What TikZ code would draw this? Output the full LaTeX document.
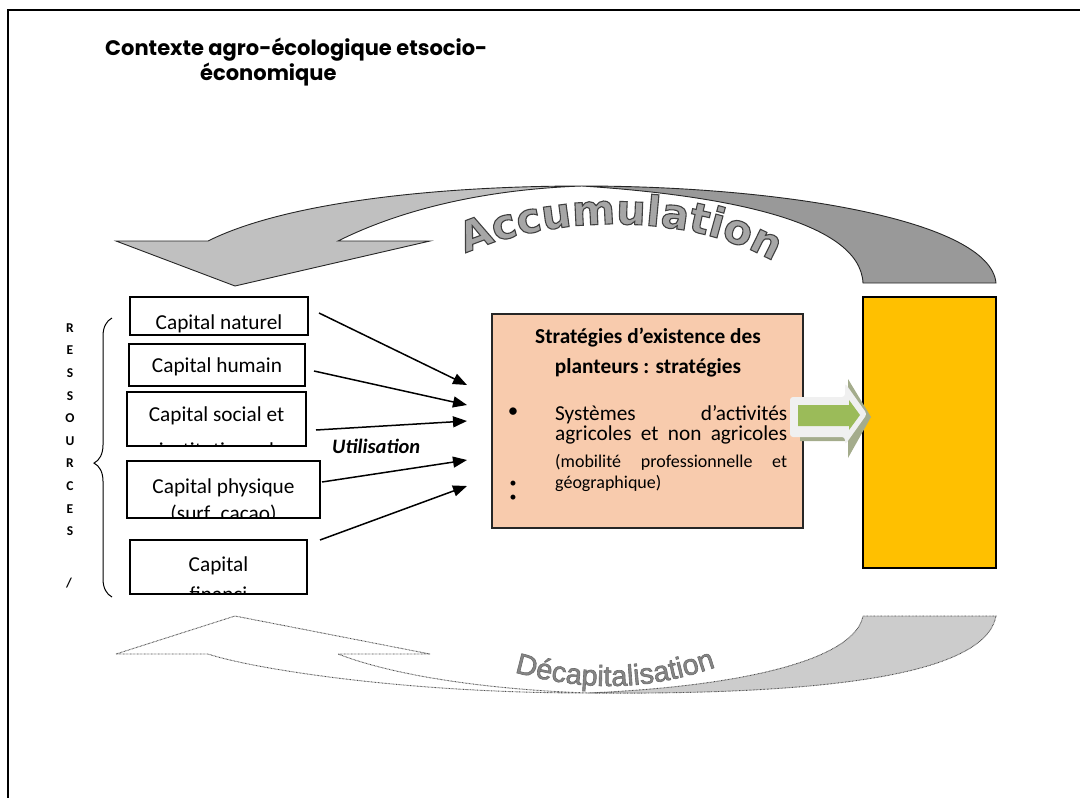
\documentclass[tikz,border=0pt]{standalone}
\usepackage{fontspec}
\setmainfont{Carlito}
\newfontfamily\titlefont{Poppins}
\newfontfamily\accfont{DejaVu Sans}
\newfontfamily\decfont{Liberation Sans}
\usetikzlibrary{arrows.meta,decorations.text,decorations.pathreplacing}

\definecolor{peach}{HTML}{F8CBAD}
\definecolor{gold}{HTML}{FFC000}
\definecolor{leaf}{HTML}{9BBB59}
\definecolor{ribbonlight}{HTML}{C0C0C0}
\definecolor{ribbondark}{HTML}{999999}
\definecolor{ribbonfaint}{HTML}{CCCCCC}
\definecolor{shadowolive}{HTML}{A4AC8C}
\definecolor{arrowrim}{HTML}{F0F0F0}
\definecolor{accfill}{HTML}{A6A6A6}
\definecolor{decfill}{HTML}{868686}

% outlined glyphs: fill, then stroke with the given width and grey level
\newcommand\outlined[2]{\special{pdf:literal direct 2 Tr #1 w #2 G}}

\tikzset{
  ribbon/.style={draw=black!85, line width=0.9pt},
  dotline/.style={draw=black!70, line width=0.9pt, dash pattern=on 0.7pt off 0.7pt},
  capbox/.style={fill=white, inner sep=0pt, outer sep=0pt},
  boxline/.style={draw=black, line width=1.4pt},
  captext/.style={anchor=base, inner sep=0pt, font=\fontsize{21.3}{24}\selectfont},
  useline/.style={line width=1.5pt, -{Triangle[length=14pt,width=11pt]}},
  resletter/.style={font=\bfseries\fontsize{13.5}{15}\selectfont, inner sep=0pt},
  body/.style={anchor=base west, inner sep=0pt, font=\fontsize{21.3}{24}\selectfont},
  small/.style={anchor=base west, inner sep=0pt, font=\fontsize{18}{20}\selectfont},
  headline/.style={anchor=base west, inner sep=0pt, font=\titlefont\bfseries\fontsize{21}{24}\selectfont},
}

\begin{document}
\begin{tikzpicture}[x=1pt,y=1pt]
\useasboundingbox (0,0) rectangle (1080,-798);

% page frame (top and left edges)
\draw[line width=2pt] (8,-798) -- (8,-10) -- (1080,-10);

% heading
\node[headline] (t1) at (105,-55) {Contexte agro-écologique etsocio-};
\node[headline] (t2) at (200,-80) {économique};

% upper ribbon arrow
\path[ribbon, fill=ribbonlight] (116,-241) -- (235,-286) -- (430,-241) -- (338,-241)
  .. controls (390,-215) and (470,-190) .. (582,-186)
  .. controls (450,-186) and (290,-200) .. (208,-241) -- cycle;
\path[ribbon, fill=ribbondark] (582,-186) .. controls (780,-186) and (990,-220) .. (996,-283)
  -- (863,-283) .. controls (860,-220) and (720,-195) .. (582,-186) -- cycle;
\path[decorate, decoration={text along path, text align=center,
    text={|\accfont\bfseries\fontsize{41.5}{44}\selectfont\color{accfill}\outlined{1.1}{0.25}|Accumulation}}]
  (448,-262) .. controls (540,-212) and (700,-208) .. (790,-272);

% lower ribbon arrow
\path[dotline, fill=white] (116,-654) -- (235,-616) -- (430,-654) -- (338,-654)
  .. controls (400,-678) and (500,-690) .. (588,-693)
  .. controls (400,-693) and (250,-668) .. (208,-654) -- cycle;
\path[dotline, fill=ribbonfaint] (863,-616) -- (996,-616)
  .. controls (985,-676) and (820,-695) .. (588,-693)
  .. controls (750,-686) and (855,-658) .. (863,-616) -- cycle;
\path[decorate, decoration={text along path, text align=center,
    text={|\decfont\fontsize{29}{31}\selectfont\color{decfill}\outlined{0.6}{0.42}|Décapitalisation}}]
  (500,-668) .. controls (580,-693) and (650,-693) .. (730,-662);

% vertical label and brace
\foreach \l [count=\i] in {R,E,S,S,O,U,R,C,E,S}
  \node[resletter] (res\i) at (70,{-328-(\i-1)*22.6}) {\l};
\node[resletter] (slash) at (69,-583) {/};
\coordinate (braceBot) at (112,-597);
\coordinate (braceTop) at (112,-318);
\draw[decorate, decoration={brace, amplitude=18pt, aspect=0.48}, line width=1pt]
  (braceBot) -- (braceTop);

% capital boxes
\node[capbox, minimum width=178pt, minimum height=38pt] (nat) at (219,-316) {};
\begin{scope}
  \clip (nat.south west) rectangle (nat.north east);
  \node[captext] (natA) at (219,-329) {Capital naturel};
\end{scope}
\draw[boxline] (nat.south west) rectangle (nat.north east);

\node[capbox, minimum width=176pt, minimum height=42pt] (hum) at (217,-365) {};
\begin{scope}
  \clip (hum.south west) rectangle (hum.north east);
  \node[captext] (humA) at (217,-372) {Capital humain};
\end{scope}
\draw[boxline] (hum.south west) rectangle (hum.north east);

\node[capbox, minimum width=179pt, minimum height=54pt] (soc) at (216.5,-419) {};
\begin{scope}
  \clip (soc.south west) rectangle (soc.north east);
  \node[captext] (socA) at (216.5,-421) {Capital social et};
  \node[captext] (socB) at (216.5,-457.5) {institutionnel};
\end{scope}
\draw[boxline] (soc.south west) rectangle (soc.north east);

\node[capbox, minimum width=193pt, minimum height=57pt] (phy) at (223.5,-489.5) {};
\begin{scope}
  \clip (phy.south west) rectangle (phy.north east);
  \node[captext] (phyA) at (223.5,-493) {Capital physique};
  \node[captext] (phyB) at (223.5,-520) {(surf. cacao)};
\end{scope}
\draw[boxline] (phy.south west) rectangle (phy.north east);

\node[capbox, minimum width=177pt, minimum height=54pt] (fin) at (218.5,-567) {};
\begin{scope}
  \clip (fin.south west) rectangle (fin.north east);
  \node[captext] (finA) at (218.5,-571) {Capital};
  \node[captext] (finB) at (218.5,-601) {financi};
\end{scope}
\draw[boxline] (fin.south west) rectangle (fin.north east);

% strategies box
\node[draw=black!85, line width=1.4pt, fill=peach, minimum width=311pt, minimum height=214pt,
  inner sep=0pt, outer sep=0pt] (strat) at (647.5,-421) {};
\node[anchor=base, inner sep=0pt, font=\bfseries\fontsize{21.3}{24}\selectfont]
  (st1) at (648,-343) {Stratégies d’existence des};
\node[anchor=base, inner sep=0pt, font=\bfseries\fontsize{21.3}{24}\selectfont]
  (st2) at (648,-373) {planteurs : stratégies};
\node[body] (b1) at (555,-420) {\hbox to 232pt{Systèmes\hfill d’activités}};
\node[body] (b2) at (555,-440) {\hbox to 232pt{agricoles\hfill et\hfill non\hfill agricoles}};
\node[small] (b3) at (555,-467) {\hbox to 232pt{(mobilité\hfill professionnelle\hfill et}};
\node[small] (b4) at (555,-488) {géographique)};
\node[inner sep=0pt, font=\fontsize{21}{24}\selectfont] (d1) at (513,-413) {•};
\node[inner sep=0pt, font=\fontsize{14}{16}\selectfont] (d2) at (513,-484) {•};
\node[inner sep=0pt, font=\fontsize{14}{16}\selectfont] (d3) at (513,-498) {•};

% use arrows
\node[anchor=base west, inner sep=0pt, font=\bfseries\itshape\fontsize{20.5}{23}\selectfont]
  (util) at (332,-453) {Utilisation};
\coordinate (s1) at (319,-313); \coordinate (e1) at (467,-385);
\coordinate (s2) at (314,-371); \coordinate (e2) at (467,-405);
\coordinate (s3) at (316,-430); \coordinate (e3) at (467,-421);
\coordinate (s4) at (322,-482); \coordinate (e4) at (467,-460);
\coordinate (s5) at (320,-540); \coordinate (e5) at (467,-486);
\foreach \k in {1,...,5} \draw[useline] (s\k) -- (e\k);

% outcome box
\node[draw=black, line width=2pt, fill=gold, minimum width=133pt, minimum height=271pt,
  inner sep=0pt, outer sep=0pt] (out) at (929.5,-432.5) {};

% block arrow from strategies to outcome
\fill[shadowolive] (800,-402) -- (848,-402) -- (848,-379) -- (871,-417) -- (848,-458)
  -- (848,-441) -- (800,-441) -- cycle;
\fill[arrowrim, rounded corners=3pt] (790,-397) -- (845,-397) -- (845,-383) -- (867,-414)
  -- (845,-445) -- (845,-437) -- (790,-437) -- cycle;
\fill[leaf] (798,-405) -- (849,-405) -- (849,-400) -- (860,-415) -- (849,-430)
  -- (849,-426) -- (798,-426) -- cycle;
\end{tikzpicture}
\end{document}
